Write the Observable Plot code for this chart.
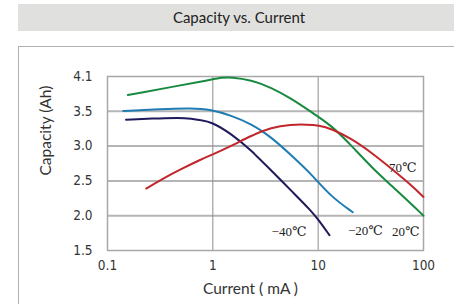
<!DOCTYPE html>
<html><head><meta charset="utf-8">
<script src="https://cdn.jsdelivr.net/npm/d3@7"></script>
<script src="https://cdn.jsdelivr.net/npm/@observablehq/plot@0.6"></script>
<style>
html,body{margin:0;padding:0;width:454px;height:304px;overflow:hidden;background:#fff;}
#header{position:absolute;left:18px;top:4px;width:440px;height:27px;background:#e0e0de;
  font-family:Lato,sans-serif;font-size:15px;color:#222;line-height:27px;}
#header span{position:absolute;left:3px;width:436px;text-align:center;}
#panel{position:absolute;left:18px;top:46px;width:500px;height:300px;border:1px solid #b0b0b0;}
#chart{position:absolute;left:0;top:0;}
</style>
</head><body>
<div id="header"><span>Capacity vs. Current</span></div>
<div id="panel"></div>
<div id="chart"></div>
<script>
// ---- data ----
const seriesNames = ["−40℃", "−20℃", "20℃", "70℃"];
const currentM40 = [0.150, 0.323, 0.557, 0.774, 0.963, 1.49, 2.31, 3.59, 5.54, 8.59, 10.2, 12.8];
const capacityM40 = [3.38, 3.40, 3.41, 3.37, 3.35, 3.18, 2.94, 2.65, 2.36, 2.07, 1.93, 1.72];
const currentM20 = [0.141, 0.323, 0.622, 0.963, 1.49, 2.31, 3.59, 5.54, 8.59, 13.3, 21.3];
const capacityM20 = [3.505, 3.54, 3.557, 3.53, 3.44, 3.32, 3.13, 2.87, 2.60, 2.27, 2.05];
const currentP20 = [0.156, 1.0, 1.2, 1.49, 2.31, 3.59, 5.54, 8.59, 13.3, 20.6, 31.9, 49.3, 76.4, 100];
const capacityP20 = [3.78, 4.05, 4.08, 4.09, 4.04, 3.91, 3.72, 3.49, 3.30, 3.01, 2.70, 2.435, 2.17, 2.00];
const currentP70 = [0.233, 0.323, 0.5, 0.774, 0.963, 1.49, 2.31, 3.59, 5.54, 7.69, 10.2, 13.3, 20.6, 31.9, 49.3, 76.4, 100];
const capacityP70 = [2.39, 2.52, 2.67, 2.81, 2.87, 3.0, 3.15, 3.27, 3.31, 3.31, 3.30, 3.25, 3.11, 2.91, 2.68, 2.44, 2.27];
const yTicks = [1.5, 2.0, 2.5, 3.0, 3.5, 4.1];
const yTickLabels = ["1.5", "2.0", "2.5", "3.0", "3.5", "4.1"];
const xTicks = [0.1, 1, 10, 100];
const xTickLabels = ["0.1", "1", "10", "100"];
const gridY = [2.0, 2.5, 3.0, 3.5];
const gridX = [1, 10];
const xTitle = "Current ( mA )";
const yTitle = "Capacity (Ah)";
const seriesColors = ["#1f1a5c", "#1f7db3", "#188a40", "#c2262d"];

const allX = [currentM40, currentM20, currentP20, currentP70];
const allY = [capacityM40, capacityM20, capacityP20, capacityP70];
const rows = [];
seriesNames.forEach((name, i) => allX[i].forEach((x, j) => rows.push({series: name, current: x, capacity: allY[i][j]})));

const labelOffsets = [
  {dx: -23, dy: -3},
  {dx: 30, dy: 19},
  {dx: -4, dy: 16},
  {dx: -7, dy: -29}
];
const tickFont = "'Liberation Sans Narrow', 'Arial Narrow', 'DejaVu Sans Condensed', sans-serif";

const chart = Plot.plot({
  width: 454, height: 304,
  marginTop: 76, marginBottom: 54, marginLeft: 107, marginRight: 31,
  style: {fontFamily: "Lato, sans-serif", fontSize: "13px", color: "#333", background: "transparent"},
  x: {type: "log", domain: [0.1, 100]},
  y: {type: "linear", domain: yTicks},
  color: {domain: seriesNames, range: seriesColors},
  marks: [
    Plot.ruleY(gridY, {stroke: "#b5b5b5", strokeWidth: 2}),
    Plot.ruleX(gridX, {stroke: "#8c8c8c", strokeWidth: 1}),
    Plot.frame({stroke: "#a8a8a8", strokeWidth: 1.5}),
    Plot.axisY(yTicks, {tickSize: 0, tickPadding: 15, tickFormat: d => yTickLabels[yTicks.indexOf(d)],
      label: null, fontSize: 13.5, fontFamily: tickFont}),
    Plot.axisX(xTicks, {tickSize: 0, tickPadding: 10, tickFormat: d => xTickLabels[xTicks.indexOf(d)],
      label: null, fontSize: 13.5, fontFamily: tickFont}),
    Plot.text([yTitle], {frameAnchor: "left", text: d => d, rotate: -90, dx: -61, dy: 12,
      fontSize: 15.5, fontFamily: "Lato, sans-serif", fill: "#333"}),
    Plot.text([xTitle], {frameAnchor: "bottom", text: d => d, dx: -15, dy: 43,
      fontSize: 15.5, fontFamily: "Lato, sans-serif", fill: "#333"}),
    Plot.line(rows, {x: "current", y: "capacity", z: "series", stroke: "series", strokeWidth: 2, curve: "basis"}),
    ...seriesNames.map((name, i) => Plot.text(rows.filter(r => r.series === name), Plot.selectLast({
      x: "current", y: "capacity", text: "series",
      dx: labelOffsets[i].dx, dy: labelOffsets[i].dy, textAnchor: "end",
      fontFamily: "'Liberation Serif', 'DejaVu Serif', serif", fontSize: 13, fill: "#222"
    })))
  ]
});
document.getElementById("chart").appendChild(chart);
</script>
</body></html>
